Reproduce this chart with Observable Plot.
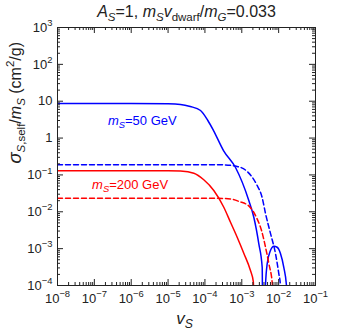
<!DOCTYPE html>
<html><head><meta charset="utf-8">
<script src="https://cdn.jsdelivr.net/npm/d3@7"></script>
<script src="https://cdn.jsdelivr.net/npm/@observablehq/plot@0.6"></script>
<style>body{margin:0;background:#fff} svg{display:block}</style>
</head><body><div id="chart"></div>
<script>
// ---- data ----
const xDecades = [-8, -7, -6, -5, -4, -3, -2, -1];
const yDecades = [-4, -3, -2, -1, 0, 1, 2, 3];
const yTickText = ["10^−4", "10^−3", "10^−2", "10^−1", "1", "10", "10^2", "10^3"];

// m_S = 50 GeV, solid
const m50Solid_v = [1e-8, 1e-6, 1e-5, 2.17e-5, 4.0e-5, 7.6e-5, 1.2e-4, 1.71e-4, 3.19e-4, 6.76e-4, 1.55e-3, 2.12e-3, 2.9e-3, 3.58e-3, 3.8e-3, 4.2e-3, 4.4e-3, 4.9e-3, 6.0e-3, 7.4e-3, 9.1e-3, 1.12e-2, 1.38e-2, 1.63e-2, 1.7e-2];
const m50Solid_s = [8.7, 8.7, 8.5, 8.2, 7.2, 5.6, 3.0, 1.6, 0.46, 0.159, 0.0202, 7.1e-3, 1.35e-3, 3.1e-4, 1e-7, 1e-7, 1e-4, 3.9e-4, 8.9e-4, 1.16e-3, 1.09e-3, 7.4e-4, 3.1e-4, 1e-4, 1e-7];
// m_S = 50 GeV, dashed
const m50Dash_v = [1e-8, 3e-4, 7.5e-4, 1.45e-3, 2.5e-3, 3.58e-3, 4.4e-3, 6.0e-3, 8.2e-3, 1.01e-2, 1.12e-2, 1.18e-2];
const m50Dash_s = [0.19, 0.188, 0.17, 0.12, 0.056, 0.024, 9e-3, 2.6e-3, 7.4e-4, 2.1e-4, 1e-4, 1e-7];
// m_S = 200 GeV, solid
const m200Solid_v = [1e-8, 1e-5, 2.17e-5, 5.0e-5, 9.3e-5, 1.74e-4, 3.25e-4, 4.94e-4, 7.5e-4, 1.14e-3, 1.72e-3, 2.05e-3, 2.3e-3];
const m200Solid_s = [0.13, 0.13, 0.127, 0.111, 0.0738, 0.0378, 0.0133, 5.2e-3, 2.04e-3, 7.4e-4, 2.55e-4, 1.3e-4, 1e-7];
// m_S = 200 GeV, dashed
const m200Dash_v = [1e-8, 2.15e-4, 5e-4, 8.5e-4, 1.6e-3, 2.5e-3, 3.5e-3, 4.4e-3, 5.4e-3, 6.8e-3, 7.3e-3];
const m200Dash_s = [0.0234, 0.0232, 0.0222, 0.019, 0.014, 7e-3, 2.9e-3, 1.1e-3, 4e-4, 1e-4, 1e-7];

const seriesLabels = ["m_S=50 GeV", "m_S=200 GeV"];
const labelAnchor_v = [2.0e-6, 9.3e-7];
const labelAnchor_s = [3.0, 0.055];

// ---- layout ----
const W = 344, Hh = 332;
const mL = 57, mR = 29, mT = 27, mB = 47;
const PH = Hh - mT - mB, PW = W - mL - mR;
const BLUE = "#0000ff", RED = "#ff0000", INK = "#222";

const xMajor = xDecades.map(e => 10 ** e);
const yMajor = yDecades.map(e => 10 ** e);
const minorOf = ds => ds.slice(0, -1).flatMap(e => [2,3,4,5,6,7,8,9].map(k => k * 10 ** e));
const xMinor = minorOf(xDecades), yMinor = minorOf(yDecades);

const toRows = (vs, ss) => vs.map((v, i) => ({v, s: ss[i]}));
const series = [
  {rows: toRows(m50Solid_v, m50Solid_s), stroke: BLUE, dash: null},
  {rows: toRows(m50Dash_v, m50Dash_s), stroke: BLUE, dash: "5,3"},
  {rows: toRows(m200Solid_v, m200Solid_s), stroke: RED, dash: null},
  {rows: toRows(m200Dash_v, m200Dash_s), stroke: RED, dash: "5,3"}
];
const labelRows = seriesLabels.map((t, i) => ({t, v: labelAnchor_v[i], s: labelAnchor_s[i], c: i === 0 ? BLUE : RED}));

const MAJ = 6, MIN = 3;
const chart = Plot.plot({
  width: W, height: Hh,
  marginLeft: mL, marginRight: mR, marginTop: mT, marginBottom: mB,
  style: {fontFamily: "'Liberation Sans', Arial, sans-serif", background: "#fff", color: INK},
  x: {type: "log", domain: [1e-8, 1e-1]},
  y: {type: "log", domain: [1e-4, 1e3]},
  marks: [
    ...series.map(s => Plot.line(s.rows, {x: "v", y: "s", stroke: s.stroke, strokeWidth: 1.5, strokeDasharray: s.dash, curve: "monotone-x", clip: true})),
    Plot.ruleX(xMajor, {insetTop: PH - MAJ, stroke: INK}),
    Plot.ruleX(xMajor, {insetBottom: PH - MAJ, stroke: INK}),
    Plot.ruleX(xMinor, {insetTop: PH - MIN, stroke: INK}),
    Plot.ruleX(xMinor, {insetBottom: PH - MIN, stroke: INK}),
    Plot.ruleY(yMajor, {insetRight: PW - MAJ, stroke: INK}),
    Plot.ruleY(yMajor, {insetLeft: PW - MAJ, stroke: INK}),
    Plot.ruleY(yMinor, {insetRight: PW - MIN, stroke: INK}),
    Plot.ruleY(yMinor, {insetLeft: PW - MIN, stroke: INK}),
    Plot.frame({stroke: INK}),
    Plot.axisX(xMajor, {anchor: "bottom", tickSize: 0, tickPadding: 8, fontSize: 13, label: null,
      tickFormat: d => "10^" + String(Math.round(Math.log10(d))).replace("-", "−")}),
    Plot.axisY(yMajor, {anchor: "left", tickSize: 0, tickPadding: 5, fontSize: 13, label: null,
      tickFormat: d => yTickText[yMajor.indexOf(d)]}),
    Plot.text(labelRows, {x: "v", y: "s", text: d => "LBL:" + d.t, fill: "c", fontSize: 13}),
    Plot.text(["TITLE"], {frameAnchor: "top", lineAnchor: "bottom", dy: -11, fontSize: 16, text: d => d}),
    Plot.text(["XLABEL"], {frameAnchor: "bottom", lineAnchor: "bottom", dy: 38, dx: -2, fontSize: 17, text: d => d}),
    Plot.text(["YLABEL"], {frameAnchor: "left", lineAnchor: "bottom", rotate: -90, dx: -37, dy: 7, fontSize: 16, text: d => d})
  ]
});
document.getElementById("chart").appendChild(chart);

// ---- rich text (sub/superscripts) ----
function rich(parts, base) {
  let off = 0, html = "";
  for (const [t, o = {}] of parts) {
    const target = o.sub ? base * 0.28 : o.sup ? -base * 0.42 : 0;
    const size = (o.sub || o.sup) ? base * 0.72 : base * (o.scale || 1);
    const dy = target - off; off = target;
    html += `<tspan${dy ? ` dy="${dy.toFixed(2)}"` : ""}${o.i ? ' font-style="italic"' : ""} font-size="${size.toFixed(1)}">${t}</tspan>`;
  }
  return html;
}
const I = {i: true}, SUB = {sub: true}, SUBI = {sub: true, i: true}, SUP = {sup: true};
const replacements = {
  "TITLE": rich([["A", I], ["S", SUBI], ["=1, "], ["m", I], ["S", SUBI], ["v", I], ["dwarf", SUB], ["/"], ["m", I], ["G", SUBI], ["=0.033"]], 16),
  "XLABEL": rich([["v", I], ["S", SUBI]], 17),
  "YLABEL": rich([["σ", {i: true, scale: 1.15}], ["S", SUBI], [",self", SUB], ["/"], ["m", I], ["S", SUBI], [" (cm"], ["2", SUP], ["/g)"]], 16)
};
chart.querySelectorAll("text").forEach(el => {
  const t = el.textContent;
  if (replacements[t]) { el.innerHTML = replacements[t]; return; }
  let m = t.match(/^LBL:m_S=(.*)$/);
  if (m) { el.innerHTML = rich([["m", I], ["S", SUBI], ["=" + m[1]]], 13); return; }
  m = t.match(/^10\^(.+)$/);
  if (m) { el.innerHTML = rich([["10"], [m[1], SUP]], 13); }
});
</script>
</body></html>
